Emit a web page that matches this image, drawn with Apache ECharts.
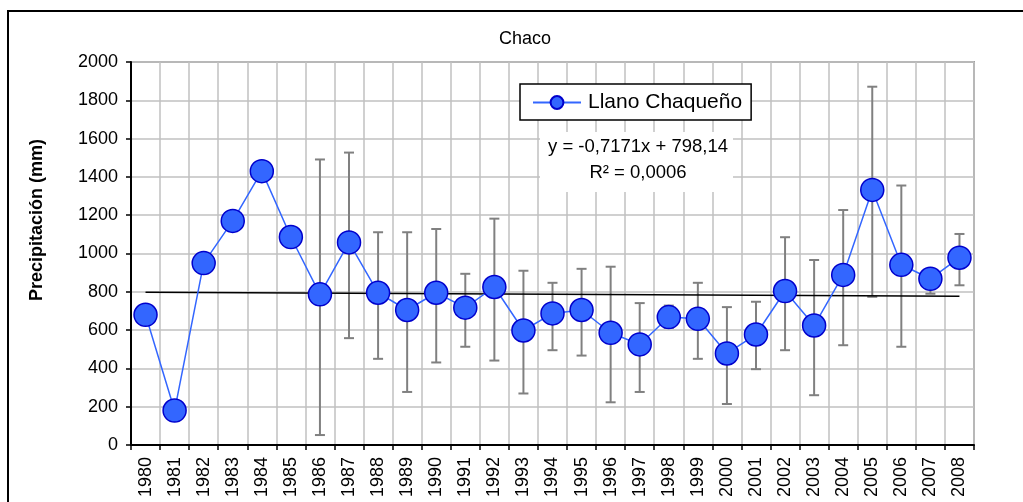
<!DOCTYPE html>
<html>
<head>
<meta charset="utf-8">
<title>Chaco</title>
<script src="https://cdn.jsdelivr.net/npm/echarts@6/dist/echarts.min.js"></script>
<style>
  html, body { margin: 0; padding: 0; background: #fff; }
  #chart { width: 1023px; height: 502px; }
</style>
</head>
<body>
<div id="chart"></div>
<script>
// Annual precipitation, Llano Chaqueño (mm)
const years = ['1980','1981','1982','1983','1984','1985','1986','1987','1988','1989',
  '1990','1991','1992','1993','1994','1995','1996','1997','1998','1999',
  '2000','2001','2002','2003','2004','2005','2006','2007','2008'];
const precip = [680, 180, 950, 1170, 1430, 1086, 787, 1058, 795, 705,
  795, 717, 825, 598, 687, 705, 586, 525, 668, 659,
  478, 577, 804, 624, 888, 1332, 941, 868, 978];
// Error bar upper / lower ends (null = no bar)
const errHigh = [null, null, null, null, null, null, 1491, 1527, 1111, 1111,
  1128, 894, 1182, 910, 847, 920, 931, 741, 728, 847,
  720, 748, 1085, 966, 1227, 1871, 1355, 920, 1102];
const errLow = [null, null, null, null, null, null, 52, 558, 450, 277,
  431, 513, 441, 269, 495, 467, 223, 277, 612, 450,
  214, 396, 495, 260, 521, 774, 513, 790, 834];
const yTicks = { min: 0, max: 2000, interval: 200 };
// Linear trend as published: y = -0,7171x + 798,14 (x = 1 for the first year)
const trendSlope = -0.7171;
const trendIntercept = 798.14;

const FONT = "'Liberation Sans', Arial, sans-serif";

const errData = [];
years.forEach((y, i) => {
  if (errHigh[i] != null && errLow[i] != null) errData.push([i, errHigh[i], errLow[i]]);
});
const n = years.length;
const trendData = [
  [0, trendIntercept + trendSlope * 1],
  [n - 1, trendIntercept + trendSlope * n]
];

const chart = echarts.init(document.getElementById('chart'), null, { renderer: 'canvas' });

chart.setOption({
  animation: false,
  backgroundColor: '#fff',
  textStyle: { fontFamily: FONT },
  title: {
    text: 'Chaco',
    left: 499, top: 30, padding: 0,
    textStyle: { fontFamily: FONT, fontSize: 18, fontWeight: 'normal', color: '#000' }
  },
  legend: {
    data: ['Llano Chaqueño'],
    left: 520, top: 84,
    padding: [8, 9, 7, 12],
    itemWidth: 48, itemHeight: 16, itemGap: 5,
    borderColor: '#000', borderWidth: 1.5,
    backgroundColor: '#fff',
    textStyle: { fontFamily: FONT, fontSize: 21, color: '#000', padding: [0, 0, 0, 2] }
  },
  grid: {
    left: 131, right: 49, top: 62, bottom: 57,
    show: true, borderColor: '#a0a0a0', borderWidth: 2, backgroundColor: 'transparent'
  },
  xAxis: {
    type: 'category',
    data: years,
    boundaryGap: true,
    axisLine: { lineStyle: { color: '#000', width: 2 } },
    axisTick: { show: true, interval: 0, length: 5, lineStyle: { color: '#000', width: 1.5 } },
    axisLabel: { interval: 0, rotate: 90, margin: 12, fontFamily: FONT, fontSize: 18, color: '#000' },
    splitLine: { show: true, interval: 0, lineStyle: { color: '#c0c0c0', width: 1.5 } }
  },
  yAxis: {
    type: 'value',
    min: yTicks.min, max: yTicks.max, interval: yTicks.interval,
    axisLine: { show: true, lineStyle: { color: '#000', width: 2 } },
    axisTick: { show: true, length: 5, lineStyle: { color: '#000', width: 1.5 } },
    axisLabel: { margin: 13, fontFamily: FONT, fontSize: 18, color: '#000',
                 formatter: v => String(v) },
    splitLine: { show: true, lineStyle: { color: '#c0c0c0', width: 1.5 } }
  },
  graphic: [
    // outer frame of the chart area
    { type: 'rect', shape: { x: 8, y: 11, width: 1040, height: 540 },
      style: { fill: 'none', stroke: '#000', lineWidth: 2 }, z: 100, silent: true },
    // vertical axis title
    { type: 'text', x: 37, y: 220, rotation: Math.PI / 2, z: 100,
      style: { text: 'Precipitación (mm)', fontFamily: FONT, fontSize: 18, fontWeight: 'bold',
               fill: '#000', align: 'center', verticalAlign: 'middle' } },
    // trend equation box
    { type: 'rect', z: 100, shape: { x: 540, y: 132, width: 193, height: 60 },
      style: { fill: '#fff', stroke: 'none' } },
    { type: 'text', z: 101, x: 638, y: 147,
      style: { text: 'y = -0,7171x + 798,14', fontFamily: FONT, fontSize: 18.5,
               fill: '#000', align: 'center', verticalAlign: 'middle' } },
    { type: 'text', z: 101, x: 638, y: 173,
      style: { text: 'R² = 0,0006', fontFamily: FONT, fontSize: 18.5,
               fill: '#000', align: 'center', verticalAlign: 'middle' } }
  ],
  series: [
    {
      name: 'Desvío',
      type: 'custom',
      z: 2,
      data: errData,
      encode: { x: 0, y: [1, 2] },
      renderItem: function (params, api) {
        const i = api.value(0);
        const top = api.coord([i, api.value(1)]);
        const bot = api.coord([i, api.value(2)]);
        const cap = 5;
        const st = { stroke: '#808080', lineWidth: 2 };
        return {
          type: 'group',
          children: [
            { type: 'line', shape: { x1: top[0], y1: top[1], x2: bot[0], y2: bot[1] }, style: st },
            { type: 'line', shape: { x1: top[0] - cap, y1: top[1], x2: top[0] + cap, y2: top[1] }, style: st },
            { type: 'line', shape: { x1: bot[0] - cap, y1: bot[1], x2: bot[0] + cap, y2: bot[1] }, style: st }
          ]
        };
      }
    },
    {
      name: 'Tendencia',
      type: 'line',
      z: 3,
      data: trendData,
      symbol: 'none',
      lineStyle: { color: '#000', width: 1.5 },
      silent: true
    },
    {
      name: 'Llano Chaqueño',
      type: 'line',
      z: 4,
      data: precip,
      symbol: 'circle',
      symbolSize: 23,
      lineStyle: { color: '#3366ff', width: 1.5 },
      itemStyle: { color: '#3366ff', borderColor: '#0000cc', borderWidth: 1.5 }
    }
  ]
});
</script>
</body>
</html>
